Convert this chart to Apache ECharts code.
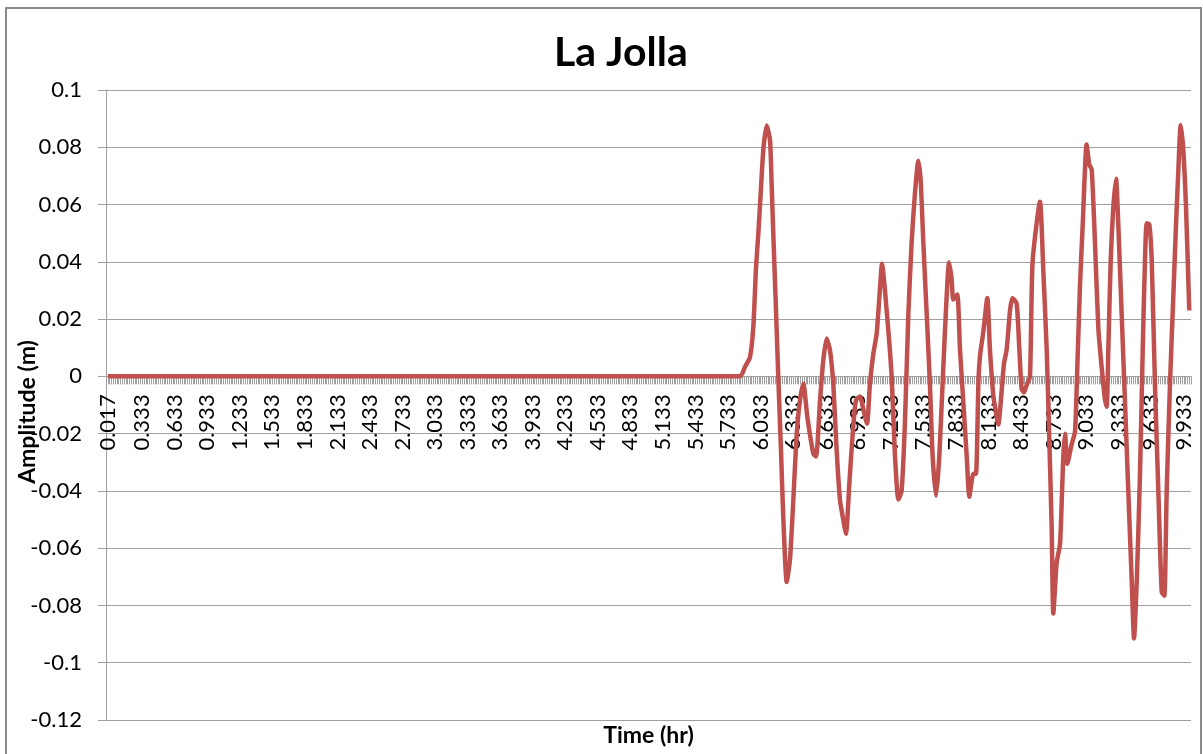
<!DOCTYPE html>
<html>
<head>
<meta charset="utf-8">
<script src="https://cdn.jsdelivr.net/npm/echarts@6/dist/echarts.min.js"></script>
<style>
html,body{margin:0;padding:0;background:#fff;}
#chart{width:1203px;height:754px;}
</style>
</head>
<body>
<div id="chart"></div>
<script>
const TIME = [
  0.017, 5.843, 5.889, 5.935, 5.966, 5.991, 6.012, 6.034, 6.058, 6.089,
  6.120, 6.135, 6.150, 6.172, 6.196, 6.221, 6.242, 6.274, 6.304, 6.335,
  6.366, 6.396, 6.427, 6.464, 6.519, 6.544, 6.581, 6.611, 6.642, 6.673,
  6.703, 6.734, 6.765, 6.795, 6.820, 6.851, 6.882, 6.912, 6.949, 6.977,
  7.014, 7.041, 7.072, 7.103, 7.134, 7.152, 7.195, 7.241, 7.272, 7.303,
  7.333, 7.364, 7.395, 7.425, 7.456, 7.487, 7.509, 7.533, 7.564, 7.594,
  7.619, 7.650, 7.680, 7.717, 7.748, 7.770, 7.794, 7.809, 7.846, 7.871,
  7.902, 7.933, 7.957, 7.994, 8.018, 8.040, 8.055, 8.086, 8.123, 8.147,
  8.178, 8.194, 8.224, 8.246, 8.276, 8.301, 8.332, 8.353, 8.393, 8.418,
  8.439, 8.461, 8.486, 8.516, 8.540, 8.608, 8.639, 8.670, 8.694, 8.716,
  8.731, 8.762, 8.793, 8.823, 8.839, 8.860, 8.900, 8.931, 8.952, 8.977,
  9.002, 9.038, 9.062, 9.085, 9.115, 9.146, 9.177, 9.207, 9.223, 9.238,
  9.260, 9.284, 9.309, 9.330, 9.361, 9.392, 9.422, 9.454, 9.475, 9.500,
  9.530, 9.555, 9.576, 9.592, 9.616, 9.638, 9.668, 9.699, 9.730, 9.754,
  9.776, 9.806, 9.837, 9.862, 9.883, 9.905, 9.929, 9.954, 9.984
];
// Amplitude (m) at each time above
const AMP = [
  0, 0, 0.0033, 0.0067, 0.0172, 0.038, 0.0497, 0.0638, 0.079, 0.0876,
  0.0824, 0.067, 0.050, 0.0265, 0, -0.0258, -0.049, -0.0718, -0.064, -0.043,
  -0.020, -0.0084, -0.0026, -0.0142, -0.027, -0.028, -0.0084, 0.0056, 0.0132, 0.009,
  -0.0026, -0.0258, -0.0433, -0.050, -0.055, -0.0375, -0.020, -0.0084, -0.007, -0.011,
  -0.0165, -0.0026, 0.0079, 0.0149, 0.031, 0.0393, 0.023, 0, -0.028, -0.043,
  -0.040, -0.0156, 0.0218, 0.0467, 0.064, 0.0753, 0.068, 0.0467, 0.0218, -0.003,
  -0.028, -0.0417, -0.028, 0.003, 0.028, 0.0398, 0.034, 0.0268, 0.0286, 0.0093,
  -0.0093, -0.028, -0.042, -0.034, -0.034, -0.003, 0.007, 0.0156, 0.0274, 0.0093,
  -0.0068, -0.0106, -0.0168, -0.0093, 0.0044, 0.0093, 0.023, 0.0274, 0.0255, 0.0093,
  -0.0044, -0.0056, -0.003, 0, 0.040, 0.061, 0.0367, 0.0093, -0.0218, -0.053,
  -0.0828, -0.065, -0.0585, -0.028, -0.020, -0.0305, -0.0237, -0.0193, 0.003, 0.0318,
  0.053, 0.081, 0.074, 0.0722, 0.0467, 0.0168, 0.003, -0.0081, -0.0106, 0.0093,
  0.0405, 0.059, 0.069, 0.053, 0.0218, -0.0093, -0.040, -0.0716, -0.0915, -0.0716,
  -0.034, 0.0093, 0.0405, 0.0535, 0.053, 0.0405, -0.003, -0.040, -0.0753, -0.0766,
  -0.040, -0.003, 0.028, 0.053, 0.0716, 0.0878, 0.079, 0.059, 0.023
];
// Category labels shown on the time axis
const TICK_LABELS = [
  '0.017','0.333','0.633','0.933','1.233','1.533','1.833','2.133','2.433','2.733',
  '3.033','3.333','3.633','3.933','4.233','4.533','4.833','5.133','5.433','5.733',
  '6.033','6.333','6.633','6.933','7.233','7.533','7.833','8.133','8.433','8.733',
  '9.033','9.333','9.633','9.933'
];
const Y_MIN = -0.12, Y_MAX = 0.1, Y_STEP = 0.02;
const TITLE = 'La Jolla';
const X_NAME = 'Time (hr)';
const Y_NAME = 'Amplitude (m)';

const FONT = 'Lato, "Open Sans", sans-serif';
const GRAY = '#a0a0a0';

// grid geometry
const GRID_TOP = 90, GRID_BOTTOM_PX = 720;
const zeroOffset = -(GRID_BOTTOM_PX - GRID_TOP) * (0 - Y_MIN) / (Y_MAX - Y_MIN);

const chart = echarts.init(document.getElementById('chart'), null, {renderer: 'canvas'});
chart.setOption({
  animation: false,
  backgroundColor: '#ffffff',
  title: {
    text: TITLE,
    left: 549,
    top: 27,
    textStyle: {fontFamily: FONT, fontSize: 41, fontWeight: 'bold', color: '#000'}
  },
  graphic: [{
    type: 'rect',
    shape: {x: 6, y: 8, width: 1195, height: 760},
    style: {fill: 'none', stroke: '#8a8a8a', lineWidth: 2},
    silent: true, z: -10
  }],
  grid: {left: 106, top: GRID_TOP, right: 12, bottom: 754 - GRID_BOTTOM_PX, containLabel: false, outerBoundsMode: 'none'},
  xAxis: {
    type: 'value',
    min: 0,
    max: 10,
    interval: 0.1,
    offset: zeroOffset,
    name: X_NAME,
    nameLocation: 'middle',
    nameGap: 348,
    nameMoveOverlap: false,
    nameTextStyle: {fontFamily: FONT, fontSize: 23, fontWeight: 'bold', color: '#000'},
    axisLine: {onZero: false, lineStyle: {color: GRAY, width: 1}},
    axisTick: {show: true, length: 8, inside: false, lineStyle: {color: GRAY, width: 1}},
    minorTick: {show: true, splitNumber: 6, length: 8, lineStyle: {color: GRAY, width: 1}},
    splitLine: {show: false},
    minorSplitLine: {show: false},
    axisLabel: {
      customValues: TICK_LABELS.map(Number),
      formatter: function (v) { return Number(v).toFixed(3); },
      rotate: 90,
      margin: 18,
      fontFamily: FONT,
      fontSize: 22,
      color: '#000'
    }
  },
  yAxis: {
    type: 'value',
    min: Y_MIN,
    max: Y_MAX,
    interval: Y_STEP,
    name: Y_NAME,
    nameLocation: 'middle',
    nameRotate: 90,
    nameGap: 67,
    nameMoveOverlap: false,
    nameTextStyle: {fontFamily: FONT, fontSize: 23, fontWeight: 'bold', color: '#000', padding: [0, 14, 0, 0]},
    axisLine: {show: true, lineStyle: {color: GRAY, width: 1}},
    axisTick: {show: true, length: 8, inside: false, lineStyle: {color: GRAY, width: 1}},
    splitLine: {show: true, lineStyle: {color: GRAY, width: 1.2}},
    axisLabel: {
      formatter: function (v) { return String(parseFloat(v.toFixed(2))); },
      margin: 24,
      fontFamily: FONT,
      fontSize: 22,
      color: '#000'
    }
  },
  series: [{
    type: 'line',
    data: TIME.map(function (t, i) { return [t, AMP[i]]; }),
    showSymbol: false,
    smooth: 0.2,
    lineStyle: {color: '#C0504D', width: 4.5},
    itemStyle: {color: '#C0504D'},
    z: 5
  }]
});
</script>
</body>
</html>
